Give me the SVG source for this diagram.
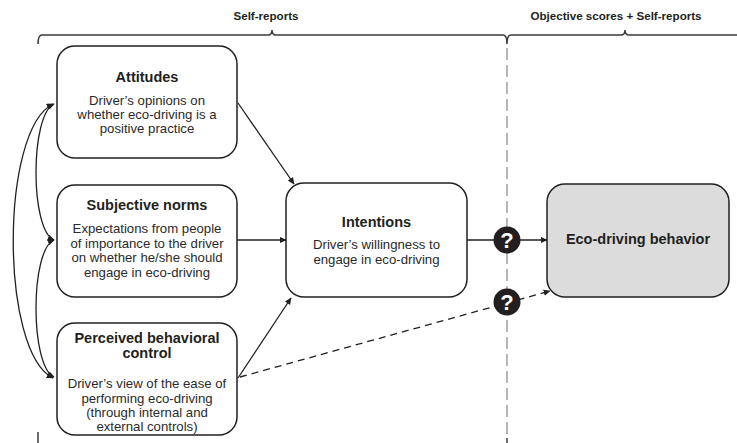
<svg xmlns="http://www.w3.org/2000/svg" width="737" height="443" viewBox="0 0 737 443">
<style>
.box{fill:#fff;stroke:#231f20;stroke-width:1.5}
.gbox{fill:#dcdcdc;stroke:#231f20;stroke-width:1.5}
.t{font-family:"Liberation Sans",Arial,sans-serif;font-weight:bold;font-size:14.5px;fill:#231f20;text-anchor:middle}
.b{font-family:"Liberation Sans",Arial,sans-serif;font-size:13.2px;fill:#2a2a2a;text-anchor:middle}
.h{font-family:"Liberation Sans",Arial,sans-serif;font-weight:bold;font-size:11.6px;fill:#231f20;text-anchor:middle}
.q{font-family:"Liberation Sans",Arial,sans-serif;font-weight:bold;font-size:22px;fill:#fff;text-anchor:middle}
.ln{fill:none;stroke:#231f20;stroke-width:1.3}
.br{fill:none;stroke:#3a3a3a;stroke-width:1.5}
</style>
<defs>
<marker id="ah" viewBox="0 0 10 10" refX="9" refY="5" markerWidth="7" markerHeight="7" markerUnits="userSpaceOnUse" orient="auto-start-reverse">
<path d="M0,0.5 L10,5 L0,9.5 z" fill="#231f20"/>
</marker>
</defs>

<g id="brackets">
<path class="br" d="M38,44 Q38,35 42,35 L268,35 Q272,35 272,30 Q272,35 276,35 L503,35 Q507,35 507,44 M507,44 Q507,35 511,35 L621,35 Q625,35 625,30 Q625,35 629,35 L737,35"/>
<text class="h" x="266" y="20">Self-reports</text>
<text class="h" x="616" y="20">Objective scores + Self-reports</text>
<line x1="507" y1="48" x2="507" y2="438" stroke="#a0a0a0" stroke-width="1.5" stroke-dasharray="12,5"/>
<line x1="38" y1="432" x2="38" y2="443" stroke="#3a3a3a" stroke-width="1.5"/>
<line x1="507" y1="438" x2="507" y2="443" stroke="#3a3a3a" stroke-width="1.5"/>
</g>

<g id="connectors">
<path class="ln" d="M53,104 C0,130 0,352 53,378" marker-start="url(#ah)" marker-end="url(#ah)"/>
<path class="ln" d="M54,104 C30,115 30,230 54,240" marker-start="url(#ah)" marker-end="url(#ah)"/>
<path class="ln" d="M54,240 C30,250 30,366 54,377" marker-start="url(#ah)" marker-end="url(#ah)"/>
<line class="ln" x1="238" y1="103" x2="294" y2="184" marker-end="url(#ah)"/>
<line class="ln" x1="237" y1="240" x2="286" y2="240" marker-end="url(#ah)"/>
<line class="ln" x1="238" y1="378" x2="291" y2="298" marker-end="url(#ah)"/>
<line class="ln" x1="467" y1="240" x2="547" y2="240" marker-end="url(#ah)"/>
<line class="ln" x1="240" y1="377" x2="550" y2="291" stroke-dasharray="7,5" marker-end="url(#ah)"/>
</g>

<g id="q1">
<circle cx="507" cy="240" r="13.5" fill="#231f20"/>
<text class="q" x="507" y="248">?</text>
</g>
<g id="q2">
<circle cx="507" cy="302" r="13.5" fill="#231f20"/>
<text class="q" x="507" y="310">?</text>
</g>

<g id="attitudes">
<rect class="box" x="57" y="46" width="180" height="112" rx="18"/>
<text class="t" x="147" y="82">Attitudes</text>
<text class="b" x="147" y="105">Driver’s opinions on</text>
<text class="b" x="147" y="119">whether eco-driving is a</text>
<text class="b" x="147" y="133">positive practice</text>
</g>

<g id="subjective-norms">
<rect class="box" x="57" y="185" width="180" height="112" rx="18"/>
<text class="t" x="147" y="210">Subjective norms</text>
<text class="b" x="147" y="233">Expectations from people</text>
<text class="b" x="147" y="247.5">of importance to the driver</text>
<text class="b" x="147" y="262">on whether he/she should</text>
<text class="b" x="147" y="276.5">engage in eco-driving</text>
</g>

<g id="perceived-behavioral-control">
<rect class="box" x="57" y="323" width="180" height="112" rx="18"/>
<text class="t" x="147" y="343">Perceived behavioral</text>
<text class="t" x="147" y="358">control</text>
<text class="b" x="147" y="388">Driver’s view of the ease of</text>
<text class="b" x="147" y="402.5">performing eco-driving</text>
<text class="b" x="147" y="417">(through internal and</text>
<text class="b" x="147" y="431">external controls)</text>
</g>

<g id="intentions">
<rect class="box" x="286" y="183" width="181" height="114" rx="18"/>
<text class="t" x="376.5" y="227">Intentions</text>
<text class="b" x="376.5" y="249">Driver’s willingness to</text>
<text class="b" x="376.5" y="263.5">engage in eco-driving</text>
</g>

<g id="eco-driving-behavior">
<rect class="gbox" x="547" y="184" width="182" height="113" rx="18"/>
<text class="t" x="638" y="244">Eco-driving behavior</text>
</g>
</svg>
